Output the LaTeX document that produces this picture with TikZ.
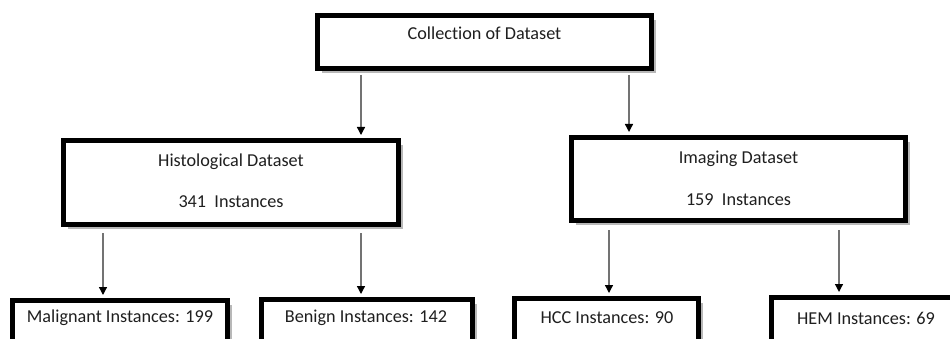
\documentclass[tikz,border=0pt]{standalone}
\usepackage{fontspec}
\setmainfont[Ligatures={NoCommon}]{Carlito}
\usetikzlibrary{arrows.meta,shadows}

\tikzset{
  box/.style={draw=black, line width=5pt, fill=white, inner sep=0pt,
    drop shadow={shadow xshift=4.6pt, shadow yshift=-4.6pt, fill=black!28, opacity=1}},
  txt/.style={text=black!88, font=\fontsize{18.2}{21}\selectfont, inner sep=0pt},
  arr/.style={draw=black!55, line width=1.3pt,
    -{Triangle[length=8pt,width=8pt,color=black,fill=black]}}
}

\begin{document}
\begin{tikzpicture}[x=1pt,y=-1pt]
  \useasboundingbox (0,0) rectangle (950,339);

  % boxes
  \node[box, minimum width=334pt, minimum height=53pt] (top) at (484.5,42) {};
  \node[box, minimum width=335pt, minimum height=84pt] (hist) at (231,182.5) {};
  \node[box, minimum width=334pt, minimum height=83pt] (img) at (738.5,179) {};
  \node[box, minimum width=215pt, minimum height=67pt] (mal) at (120,334) {};
  \node[box, minimum width=211pt, minimum height=68pt] (ben) at (367,333.5) {};
  \node[box, minimum width=184pt, minimum height=69pt] (hcc) at (606.5,333) {};
  \node[box, minimum width=186pt, minimum height=70pt] (hem) at (864.5,332.5) {};

  % texts
  \node[txt] (ttop) at (484.5,33) {Collection of Dataset};
  \node[txt] (thist1) at (231,162) {Histological Dataset};
  \node[txt] (thist2) at (231,202) {341\ \ Instances};
  \node[txt] (timg1) at (738.5,159) {Imaging Dataset};
  \node[txt] (timg2) at (738.5,200) {159\ \ Instances};
  \node[txt] (tmal) at (120,318) {Malignant Instances: 199};
  \node[txt] (tben) at (366,318) {Benign Instances: 142};
  \node[txt] (thcc) at (607,318) {HCC Instances: 90};
  \node[txt] (them) at (866,318) {HEM Instances: 69};

  % columns of the connectors
  \coordinate (c1) at (361,0);
  \coordinate (c2) at (629,0);
  \coordinate (c3) at (103,0);
  \coordinate (c4) at (361,0);
  \coordinate (c5) at (609,0);
  \coordinate (c6) at (839,0);

  % connectors
  \draw[arr, shorten <=4pt, shorten >=3pt] (top.south -| c1) -- (hist.north -| c1);
  \draw[arr, shorten <=4pt, shorten >=3pt] (top.south -| c2) -- (img.north -| c2);
  \draw[arr, shorten <=6pt, shorten >=3pt] (hist.south -| c3) -- (mal.north -| c3);
  \draw[arr, shorten <=6pt, shorten >=3pt] (hist.south -| c4) -- (ben.north -| c4);
  \draw[arr, shorten <=7pt, shorten >=3pt] (img.south -| c5) -- (hcc.north -| c5);
  \draw[arr, shorten <=7pt, shorten >=3pt] (img.south -| c6) -- (hem.north -| c6);
\end{tikzpicture}
\end{document}
